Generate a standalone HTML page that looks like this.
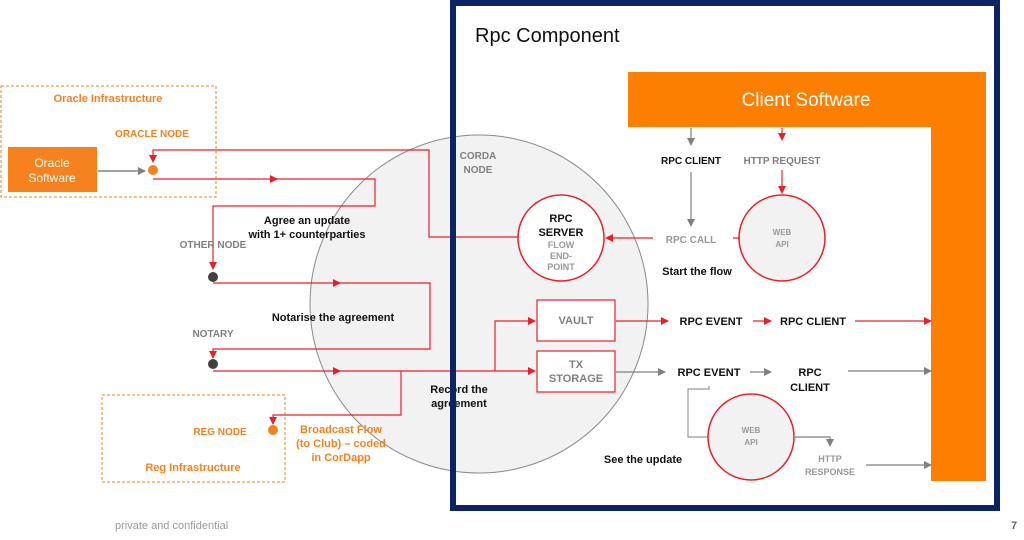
<!DOCTYPE html>
<html><head><meta charset="utf-8"><style>
html,body{margin:0;padding:0;background:#fff;}
svg{display:block;font-family:"Liberation Sans",sans-serif;font-weight:bold;}
</style></head><body>
<svg width="1024" height="540" viewBox="0 0 1024 540" xmlns="http://www.w3.org/2000/svg">
<defs>
<marker id="r" markerWidth="8" markerHeight="8" refX="7" refY="4" orient="auto" markerUnits="userSpaceOnUse"><path d="M0,0L8,4L0,8z" fill="#e8202a"/></marker>
<marker id="g" markerWidth="8" markerHeight="8" refX="7" refY="4" orient="auto" markerUnits="userSpaceOnUse"><path d="M0,0L8,4L0,8z" fill="#808080"/></marker>
</defs>
<rect x="0" y="0" width="1024" height="540" fill="#fff"/>
<!-- big circle -->
<circle cx="479" cy="304" r="169" fill="#f2f2f2" stroke="#8a8a8a" stroke-width="1"/>
<!-- oracle infra -->
<rect x="1" y="86" width="215" height="111" fill="none" stroke="#f5821f" stroke-dasharray="3,2" stroke-width="1"/>
<text x="108" y="102" fill="#f5821f" font-size="11" text-anchor="middle">Oracle Infrastructure</text>
<text x="152" y="137" fill="#f5821f" font-size="10" text-anchor="middle">ORACLE NODE</text>
<rect x="8" y="147" width="89" height="45" fill="#f5821f"/>
<text x="52" y="167" fill="#fff" font-size="12" font-weight="normal" text-anchor="middle">Oracle</text>
<text x="52" y="182" fill="#fff" font-size="12" font-weight="normal" text-anchor="middle">Software</text>
<line x1="98" y1="171" x2="145" y2="171" stroke="#808080" stroke-width="1.5" marker-end="url(#g)"/>
<circle cx="153" cy="170" r="5" fill="#f5821f"/>
<!-- reg infra -->
<rect x="102" y="395" width="183" height="87" fill="none" stroke="#f5821f" stroke-dasharray="3,2" stroke-width="1"/>
<text x="220" y="435" fill="#f5821f" font-size="10" text-anchor="middle">REG NODE</text>
<text x="193" y="471" fill="#f5821f" font-size="11" text-anchor="middle">Reg Infrastructure</text>
<circle cx="273" cy="430" r="5" fill="#f5821f"/>
<text x="341" y="433" fill="#f5821f" font-size="11" text-anchor="middle">Broadcast Flow</text>
<text x="341" y="447" fill="#f5821f" font-size="11" text-anchor="middle">(to Club) – coded</text>
<text x="341" y="461" fill="#f5821f" font-size="11" text-anchor="middle">in CorDapp</text>
<!-- red flows -->
<g fill="none" stroke="#e8202a" stroke-width="1.2">
<path d="M520,237 H429 V150 H153 V162" marker-end="url(#r)"/>
<path d="M153,179 H277" marker-end="url(#r)"/>
<path d="M270,179 H375 V206 H213 V269" marker-end="url(#r)"/>
<path d="M213,283 H340" marker-end="url(#r)"/>
<path d="M335,283 H430 V349 H213 V358" marker-end="url(#r)"/>
<path d="M213,371 H340" marker-end="url(#r)"/>
<path d="M335,371 H535" marker-end="url(#r)"/>
<path d="M495,371 V321 H535" marker-end="url(#r)"/>
<path d="M401,371 V415 H273 V424" marker-end="url(#r)"/>
</g>
<circle cx="213" cy="277" r="5" fill="#404040"/>
<circle cx="213" cy="364" r="5" fill="#404040"/>
<text x="213" y="248" fill="#808080" font-size="10" text-anchor="middle">OTHER NODE</text>
<text x="213" y="337" fill="#808080" font-size="10" text-anchor="middle">NOTARY</text>
<text x="307" y="224" fill="#111" font-size="11" text-anchor="middle">Agree an update</text>
<text x="307" y="238" fill="#111" font-size="11" text-anchor="middle">with 1+ counterparties</text>
<text x="333" y="321" fill="#111" font-size="11" text-anchor="middle">Notarise the agreement</text>
<text x="459" y="393" fill="#111" font-size="11" text-anchor="middle">Record the</text>
<text x="459" y="407" fill="#111" font-size="11" text-anchor="middle">agreement</text>
<text x="478" y="159" fill="#808080" font-size="10" text-anchor="middle">CORDA</text>
<text x="478" y="173" fill="#808080" font-size="10" text-anchor="middle">NODE</text>
<!-- frame -->
<rect x="453" y="3" width="544" height="505" fill="none" stroke="#0c2461" stroke-width="6"/>
<text x="475" y="42" fill="#111" font-size="20" font-weight="normal">Rpc Component</text>
<!-- orange L -->
<path d="M628,72 H986 V481 H931 V127 H628 Z" fill="#fd7f02"/>
<text x="806" y="106" fill="#fff" font-size="19" font-weight="normal" text-anchor="middle">Client Software</text>
<!-- RPC server -->
<circle cx="561" cy="238" r="43" fill="#fff" stroke="#e8202a" stroke-width="1.5"/>
<text x="561" y="222" fill="#111" font-size="11" text-anchor="middle">RPC</text>
<text x="561" y="236" fill="#111" font-size="11" text-anchor="middle">SERVER</text>
<text x="561" y="248" fill="#999" font-size="9" text-anchor="middle">FLOW</text>
<text x="561" y="259" fill="#999" font-size="9" text-anchor="middle">END-</text>
<text x="561" y="270" fill="#999" font-size="9" text-anchor="middle">POINT</text>
<rect x="537" y="300" width="78" height="41" fill="#fff" stroke="#e8202a" stroke-width="1.2"/>
<text x="576" y="324" fill="#808080" font-size="11" text-anchor="middle">VAULT</text>
<rect x="537" y="351" width="78" height="41" fill="#fff" stroke="#e8202a" stroke-width="1.2"/>
<text x="576" y="368" fill="#808080" font-size="11" text-anchor="middle">TX</text>
<text x="576" y="382" fill="#808080" font-size="11" text-anchor="middle">STORAGE</text>
<!-- top right flows -->
<line x1="691" y1="128" x2="691" y2="145" stroke="#808080" stroke-width="1.2" marker-end="url(#g)"/>
<line x1="782" y1="128" x2="782" y2="140" stroke="#e8202a" stroke-width="1.2" marker-end="url(#r)"/>
<text x="691" y="164" fill="#111" font-size="10" text-anchor="middle">RPC CLIENT</text>
<text x="782" y="164" fill="#808080" font-size="10" text-anchor="middle">HTTP REQUEST</text>
<line x1="691" y1="172" x2="691" y2="226" stroke="#808080" stroke-width="1.2" marker-end="url(#g)"/>
<line x1="782" y1="170" x2="782" y2="193" stroke="#e8202a" stroke-width="1.2" marker-end="url(#r)"/>
<circle cx="782" cy="238" r="43" fill="#f2f2f2" stroke="#e8202a" stroke-width="1.5"/>
<text x="782" y="235" fill="#999" font-size="8" text-anchor="middle">WEB</text>
<text x="782" y="247" fill="#999" font-size="8" text-anchor="middle">API</text>
<text x="691" y="243" fill="#999" font-size="10" text-anchor="middle">RPC CALL</text>
<line x1="653" y1="238" x2="606" y2="238" stroke="#e8202a" stroke-width="1.2" marker-end="url(#r)"/>
<line x1="733" y1="238" x2="740" y2="238" stroke="#e8202a" stroke-width="1.2"/>
<text x="697" y="275" fill="#111" font-size="11" text-anchor="middle">Start the flow</text>
<!-- row 1 -->
<line x1="616" y1="321" x2="668" y2="321" stroke="#e8202a" stroke-width="1.2" marker-end="url(#r)"/>
<text x="711" y="325" fill="#111" font-size="11" text-anchor="middle">RPC EVENT</text>
<line x1="753" y1="321" x2="771" y2="321" stroke="#e8202a" stroke-width="1.2" marker-end="url(#r)"/>
<text x="813" y="325" fill="#111" font-size="11" text-anchor="middle">RPC CLIENT</text>
<line x1="855" y1="321" x2="931" y2="321" stroke="#e8202a" stroke-width="1.2" marker-end="url(#r)"/>
<!-- row 2 -->
<line x1="616" y1="372" x2="665" y2="372" stroke="#808080" stroke-width="1.2" marker-end="url(#g)"/>
<text x="709" y="376" fill="#111" font-size="11" text-anchor="middle">RPC EVENT</text>
<line x1="750" y1="372" x2="771" y2="372" stroke="#808080" stroke-width="1.2" marker-end="url(#g)"/>
<text x="810" y="376" fill="#111" font-size="11" text-anchor="middle">RPC</text>
<text x="810" y="391" fill="#111" font-size="11" text-anchor="middle">CLIENT</text>
<line x1="848" y1="371" x2="931" y2="371" stroke="#808080" stroke-width="1.2" marker-end="url(#g)"/>
<path d="M709,386 V389 H688 V437 H709" fill="none" stroke="#999" stroke-width="1.2"/>
<circle cx="751" cy="437" r="43" fill="#f2f2f2" stroke="#e8202a" stroke-width="1.5"/>
<text x="751" y="433" fill="#999" font-size="8" text-anchor="middle">WEB</text>
<text x="751" y="445" fill="#999" font-size="8" text-anchor="middle">API</text>
<path d="M794,437 H830 V446" fill="none" stroke="#808080" stroke-width="1.2" marker-end="url(#g)"/>
<text x="830" y="462" fill="#999" font-size="9" text-anchor="middle">HTTP</text>
<text x="830" y="475" fill="#999" font-size="9" text-anchor="middle">RESPONSE</text>
<line x1="866" y1="465" x2="931" y2="465" stroke="#808080" stroke-width="1.2" marker-end="url(#g)"/>
<text x="643" y="463" fill="#111" font-size="11" text-anchor="middle">See the update</text>
<!-- footer -->
<text x="115" y="529" fill="#999" font-size="11" font-weight="normal">private and confidential</text>
<text x="1011" y="529" fill="#666" font-size="11">7</text>
</svg>
</body></html>
